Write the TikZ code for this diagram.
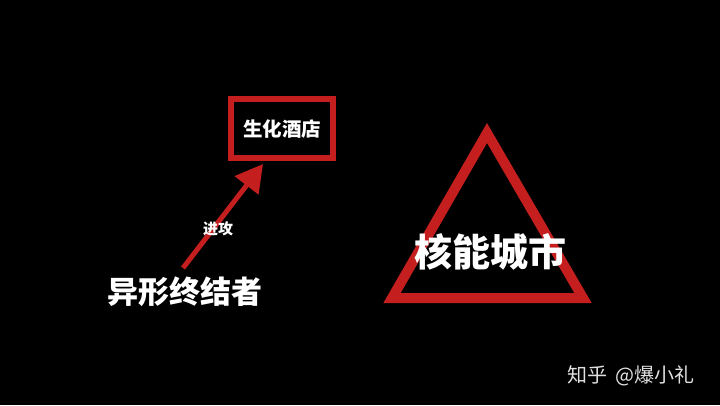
\documentclass[tikz,border=0pt]{standalone}
\usepackage{fontspec}
\newfontfamily\cjk{Noto Sans CJK SC}
\usepackage{tikz}
\usetikzlibrary{positioning,arrows.meta}
\definecolor{alarmred}{RGB}{196,30,30}
\definecolor{markgray}{RGB}{225,225,225}

\begin{document}
\begin{tikzpicture}[x=1pt,y=-1pt,every node/.style={text=white,inner sep=0pt,font=\cjk\bfseries}]

			%background
			\fill[black] (0,0) rectangle (720,405);
			\useasboundingbox (0,0) rectangle (720,405);

			%hotel box
			\draw[alarmred, line width=6pt] (231,99) rectangle (333,158);
			\node (hotel) at (282,129) {\fontsize{19.5}{19.5}\selectfont 生化酒店};

			%city triangle
			\draw[alarmred, line width=10pt, miter limit=10] (487,133) -- (583,298) -- (392,298) -- cycle;
			\node (city) at (490,252) {\fontsize{38}{38}\selectfont 核能城市};

			%alien
			\node (alien) at (185,292) {\fontsize{31}{31}\selectfont 异形终结者};

			%attack
			\coordinate (start) at (183,268);
			\coordinate (tip) at (263,164);
			\draw[alarmred, line width=5pt, -{Triangle[length=27pt,width=29pt]}] (start) -- (tip);
			\node (attack) at (218,229) {\fontsize{15}{15}\selectfont 进攻};

			%watermark
			\node[text=markgray, font=\cjk, anchor=west] (mark) at (567,376) {\fontsize{20}{20}\selectfont 知乎\hspace{4pt} @爆小礼};
		\end{tikzpicture}
\end{document}
